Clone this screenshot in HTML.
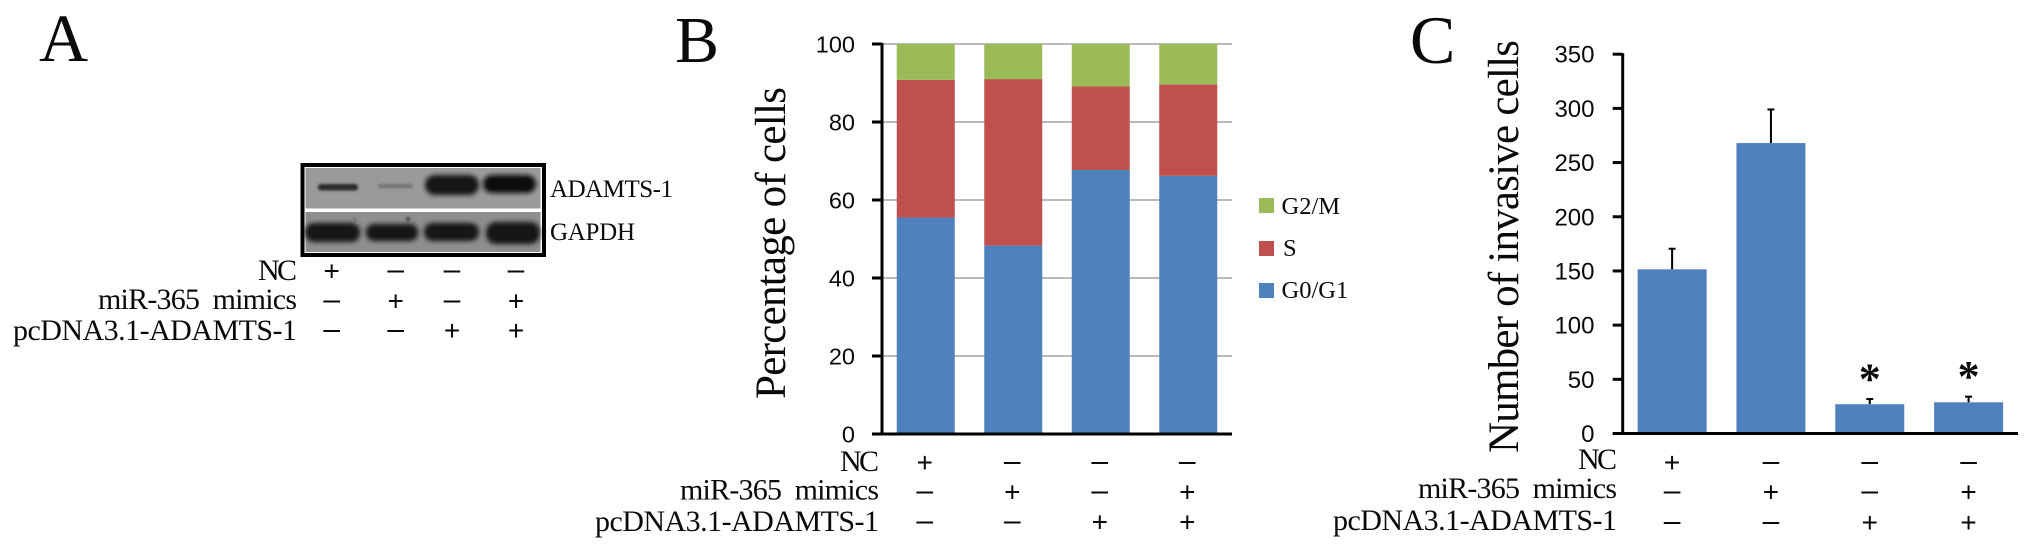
<!DOCTYPE html>
<html lang="en">
<head>
<meta charset="utf-8">
<title>ADAMTS-1 western blot, cell cycle and invasion charts</title>
<style>
html,body{margin:0;padding:0;background:#fff;width:2031px;height:554px;overflow:hidden}
svg{display:block}
.serif{font-family:"Liberation Serif",serif;fill:#0a0a0a}
.sans{font-family:"Liberation Sans",sans-serif;fill:#0a0a0a}
</style>
</head>
<body>
<svg id="figure" xmlns="http://www.w3.org/2000/svg" width="2031" height="554" viewBox="0 0 2031 554">
  <defs>
    <filter id="soft" x="-30%" y="-100%" width="160%" height="300%"><feGaussianBlur stdDeviation="2.4"/></filter>
    <filter id="softer" x="-30%" y="-100%" width="160%" height="300%"><feGaussianBlur stdDeviation="1.3"/></filter>
  </defs>

  <text class="serif" x="39" y="61" font-size="68">A</text>
  <text class="serif" x="675" y="62" font-size="66">B</text>
  <text class="serif" x="1410" y="63" font-size="68">C</text>

  <g>
    <rect x="302.5" y="165" width="241.5" height="90" fill="#fff" stroke="#000" stroke-width="4"/>
    <rect x="305.5" y="168" width="235" height="40.5" fill="#9a9a9a"/>
    <rect x="305.5" y="212" width="235" height="40" fill="#8e8e8e"/>
    <g filter="url(#softer)">
      <rect x="318" y="184" width="40" height="6.5" rx="3" fill="#2b2b2b"/>
      <rect x="378" y="184" width="35" height="4" rx="2" fill="#727272"/>
    </g>
    <g filter="url(#soft)">
      <rect x="425" y="175" width="54" height="20" rx="10" fill="#141414"/>
      <rect x="483" y="175" width="53" height="18" rx="9" fill="#111"/>
      <rect x="305" y="223" width="55" height="19" rx="9" fill="#161616"/>
      <rect x="366" y="224" width="52" height="17" rx="8" fill="#191919"/>
      <rect x="424" y="223" width="55" height="18" rx="9" fill="#191919"/>
      <rect x="486" y="222" width="54" height="22" rx="10" fill="#171717"/>
    </g>
    <circle cx="408" cy="219" r="2" fill="#3a3a3a" filter="url(#softer)"/>
    <circle cx="355" cy="219" r="1.5" fill="#666" filter="url(#softer)"/>
  </g>
  <text class="serif" x="550" y="197" font-size="25" textLength="123">ADAMTS-1</text>
  <text class="serif" x="550" y="240" font-size="25" textLength="85">GAPDH</text>

  <g font-size="30" text-anchor="end">
    <text class="serif" x="297" y="280" textLength="39">NC</text>
    <text class="serif" x="297" y="309" textLength="199" xml:space="preserve">miR-365  mimics</text>
    <text class="serif" x="297" y="340" textLength="284">pcDNA3.1-ADAMTS-1</text>
  </g>
  <g font-size="30" text-anchor="end">
    <text class="serif" x="879" y="471" textLength="39">NC</text>
    <text class="serif" x="879" y="499.5" textLength="199" xml:space="preserve">miR-365  mimics</text>
    <text class="serif" x="879" y="531" textLength="284">pcDNA3.1-ADAMTS-1</text>
  </g>
  <g font-size="30" text-anchor="end">
    <text class="serif" x="1617" y="469" textLength="39">NC</text>
    <text class="serif" x="1617" y="498" textLength="199" xml:space="preserve">miR-365  mimics</text>
    <text class="serif" x="1617" y="530" textLength="284">pcDNA3.1-ADAMTS-1</text>
  </g>

  <text class="serif" transform="translate(785 243) rotate(-90)" text-anchor="middle" font-size="43" textLength="312">Percentage of cells</text>
  <text class="serif" transform="translate(1518 246.5) rotate(-90)" text-anchor="middle" font-size="43" textLength="413">Number of invasive cells</text>

  <g>
    <rect x="1259" y="198" width="15" height="15" fill="#9BBB59"/>
    <text class="serif" x="1281.5" y="214" font-size="24.5">G2/M</text>
    <rect x="1259" y="241" width="15" height="15" fill="#C0504D"/>
    <text class="serif" x="1283" y="256" font-size="24.5">S</text>
    <rect x="1259" y="283" width="15" height="15" fill="#4F81BD"/>
    <text class="serif" x="1281.5" y="298" font-size="24.5">G0/G1</text>
  </g>

  <g id="signs"></g>
  <g id="chartB"></g>
  <g id="chartC"></g>
</svg>

<script>
// Shared treatment matrix
const treatmentNC = ['+', '-', '-', '-'];
const treatmentMimics = ['-', '+', '-', '+'];
const treatmentPlasmid = ['-', '-', '+', '+'];

// Panel B: cell-cycle distribution
const cycleCategories = ['Group 1', 'Group 2', 'Group 3', 'Group 4'];
const cycleG0G1 = [55.5, 48.3, 67.7, 66.2];
const cycleS = [35.3, 42.7, 21.4, 23.4];
const cycleG2M = [9.2, 9.0, 10.9, 10.4];
const cycleTicks = [0, 20, 40, 60, 80, 100];

// Panel C: invasive cell counts
const invasionCategories = ['Group 1', 'Group 2', 'Group 3', 'Group 4'];
const invasionValues = [151.5, 268, 27, 28.8];
const invasionErrors = [19, 31, 4.8, 5.2];
const invasionSignificant = [false, false, true, true];
const invasionTicks = [0, 50, 100, 150, 200, 250, 300, 350];

const NS = 'http://www.w3.org/2000/svg';
function make(parent, tag, attrs, text) {
  const el = document.createElementNS(NS, tag);
  for (const k in attrs) el.setAttribute(k, attrs[k]);
  if (text !== undefined) el.textContent = text;
  parent.appendChild(el);
  return el;
}

// Panel B axis functions
const bLeft = 882, bRight = 1232, bBase = 434, bTop = 44;
const bY = v => bBase - (v / 100) * (bBase - bTop);
const bX = i => bLeft + (i + 0.5) * (bRight - bLeft) / cycleCategories.length;
const bBarW = 58;

// Panel C axis functions
const cLeft = 1622.7, cRight = 2018, cBase = 433.5, cTop = 54.2;
const cY = v => cBase - (v / 350) * (cBase - cTop);
const cX = i => cLeft + (i + 0.5) * (cRight - cLeft) / invasionCategories.length;
const cBarW = 69;

const gB = document.getElementById('chartB');
const gC = document.getElementById('chartC');
const gS = document.getElementById('signs');

// Panel B gridlines
cycleTicks.forEach(t => {
  if (t === 0) return;
  const el = make(gB, 'line', {x1: bLeft, x2: bRight, y1: bY(t), y2: bY(t), stroke: '#909090', 'stroke-width': 1.2});
  
  
});

// Panel B stacked bars
cycleCategories.forEach((c, i) => {
  const x = bX(i) - bBarW / 2;
  const a = cycleG0G1[i], b = cycleS[i], d = cycleG2M[i];
  const blue = make(gB, 'rect', {x: x, y: bY(a), width: bBarW, height: bY(0) - bY(a), fill: '#4F81BD'});
  
  
  const red = make(gB, 'rect', {x: x, y: bY(a + b), width: bBarW, height: bY(a) - bY(a + b), fill: '#C0504D'});
  
  
  const green = make(gB, 'rect', {x: x, y: bY(a + b + d), width: bBarW, height: bY(a + b) - bY(a + b + d), fill: '#9BBB59'});
  
  
});

// Panel B axes
const bAxisY = make(gB, 'line', {x1: bLeft, x2: bLeft, y1: bTop - 1, y2: bBase + 1.5, stroke: '#000', 'stroke-width': 3});


const bAxisX = make(gB, 'line', {x1: bLeft - 10, x2: bRight, y1: bBase, y2: bBase, stroke: '#000', 'stroke-width': 3});


cycleTicks.forEach(t => {
  const tick = make(gB, 'line', {x1: bLeft - 10, x2: bLeft, y1: bY(t), y2: bY(t), stroke: '#000', 'stroke-width': 3});
  
  
  const lab = make(gB, 'text', {x: 855, y: bY(t) + 8.5, 'text-anchor': 'end', 'font-size': 23.5, class: 'sans'}, String(t));
  
  
});

// Panel C bars and error bars
invasionCategories.forEach((c, i) => {
  const cx = cX(i);
  const v = invasionValues[i], e = invasionErrors[i];
  const stem = make(gC, 'line', {x1: cx, x2: cx, y1: cY(v), y2: cY(v + e), stroke: '#000', 'stroke-width': 2});
  
  
  const cap = make(gC, 'line', {x1: cx - 3.5, x2: cx + 3.5, y1: cY(v + e), y2: cY(v + e), stroke: '#000', 'stroke-width': 2});
  
  
  const bar = make(gC, 'rect', {x: cx - cBarW / 2, y: cY(v), width: cBarW, height: cY(0) - cY(v), fill: '#4F81BD'});
  
  
  if (invasionSignificant[i]) {
    const star = make(gC, 'text', {x: cx, y: cY(v + e) - 5.5, 'text-anchor': 'middle', 'font-size': 44, 'font-weight': 'bold', class: 'serif'}, '*');
    
    
  }
});

// Panel C axes
const cAxisY = make(gC, 'line', {x1: cLeft, x2: cLeft, y1: cTop - 1, y2: cBase + 1.5, stroke: '#000', 'stroke-width': 3});


const cAxisX = make(gC, 'line', {x1: cLeft - 10, x2: cRight, y1: cBase, y2: cBase, stroke: '#000', 'stroke-width': 3});


invasionTicks.forEach(t => {
  const tick = make(gC, 'line', {x1: cLeft - 10, x2: cLeft, y1: cY(t), y2: cY(t), stroke: '#000', 'stroke-width': 3});
  
  
  const lab = make(gC, 'text', {x: 1594.5, y: cY(t) + 8.5, 'text-anchor': 'end', 'font-size': 24, class: 'sans'}, String(t));
  
  
});

// Treatment plus / minus rows for all three panels
const signRows = [treatmentNC, treatmentMimics, treatmentPlasmid];
function drawSigns(colX, rowY) {
  signRows.forEach((row, r) => {
    row.forEach((s, i) => {
      const plus = s === '+';
      const t = make(gS, 'text', {
        x: colX(i),
        y: rowY[r] + (plus ? 10 : 8.5),
        'text-anchor': 'middle',
        'font-size': plus ? 28 : 30,
        class: 'sans'
      }, plus ? '+' : '\u2013');
      
      
    });
  });
}
const aCols = i => [331.7, 395.7, 452, 516][i];
drawSigns(aCols, [270.7, 300.5, 330]);
drawSigns(i => bX(i) - 1, [461.8, 491.5, 521.5]);
drawSigns(i => cX(i), [461.8, 491.7, 522]);
</script>
</body>
</html>
